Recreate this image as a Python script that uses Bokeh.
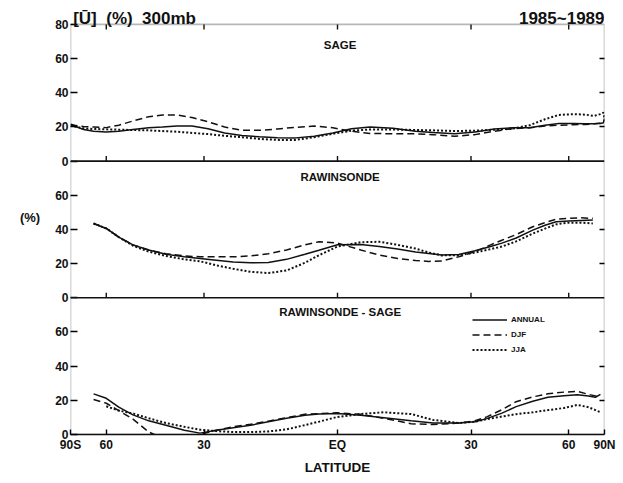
import numpy as np
from bokeh.plotting import figure
from bokeh.models import (Range1d, FixedTicker, LinearAxis, Label, Legend, LegendItem,
                          ColumnDataSource, Span, BoxAnnotation)
from bokeh.transform import dodge
from bokeh.embed import file_html
from bokeh.resources import INLINE

# ---------------- data ----------------
# latitude (degrees, negative = south) and zonal-mean values (%) at 300 mb
sage_lat = [-88, -80, -72, -66, -60, -55, -50, -45, -41, -37, -33, -29, -25, -21, -17,
            -13, -9, -5, -1, 3, 7, 12, 17, 21, 26, 31, 36, 41, 46, 51, 56, 62, 68, 74,
            80, 85, 89]
sage_annual = [21.5, 20.5, 18.5, 17.5, 17.0, 17.5, 18.5, 19.5, 20.0, 20.6, 20.5, 19.0,
               16.5, 15.0, 14.2, 13.7, 13.6, 14.5, 16.5, 19.0, 20.0, 19.2, 17.5, 16.7,
               16.0, 17.0, 18.8, 19.5, 19.5, 21.0, 22.0, 22.0, 21.8, 21.8, 22.0, 22.5, 25.0]
sage_djf = [21.6, 21.0, 20.3, 20.0, 19.6, 21.0, 23.5, 26.0, 27.0, 27.0, 25.5, 23.0,
            20.0, 18.0, 18.0, 18.8, 19.8, 20.5, 19.5, 17.5, 16.2, 16.0, 16.0, 15.5,
            14.5, 15.5, 17.5, 19.0, 19.5, 20.5, 21.0, 21.3, 21.5, 21.8, 22.3, 23.0, 24.0]
sage_jja = [21.0, 20.3, 19.2, 18.8, 18.6, 18.4, 18.2, 18.0, 17.6, 17.2, 16.5, 15.8,
            14.8, 14.0, 13.0, 12.4, 12.4, 14.0, 16.0, 17.8, 18.5, 18.5, 18.2, 18.0,
            17.6, 17.8, 18.4, 19.0, 21.0, 24.5, 27.0, 27.5, 27.2, 26.5, 27.5, 28.4, 25.0]

raw_lat = [-66, -60, -55, -50, -45, -40, -35, -31, -27, -23, -19, -15, -11, -7, -4, 0,
           5, 9, 13, 17, 20, 23, 27, 31, 35, 38, 42, 47, 51, 55, 60, 66, 73]
raw_annual = [43.5, 40.6, 35.5, 31.0, 28.0, 25.5, 24.0, 23.0, 22.0, 21.0, 20.5, 20.7,
              22.5, 25.5, 27.8, 31.0, 31.2, 30.0, 28.5, 26.8, 26.0, 25.0, 25.3, 27.5,
              30.0, 32.0, 35.0, 39.6, 42.5, 44.5, 45.0, 45.3, 45.5]
raw_djf = [43.5, 40.6, 35.5, 31.0, 28.0, 25.8, 24.5, 24.0, 24.0, 24.0, 24.5, 25.8,
           28.0, 31.0, 32.8, 32.0, 28.0, 25.0, 23.0, 21.8, 21.3, 21.6, 24.0, 27.0,
           31.0, 33.7, 37.0, 41.6, 44.0, 46.0, 46.5, 46.8, 46.5]
raw_jja = [43.5, 40.6, 35.5, 30.5, 27.0, 24.5, 22.5, 21.4, 19.0, 17.0, 15.2, 14.5,
           16.0, 20.5, 24.9, 30.0, 32.5, 32.8, 31.0, 28.8, 26.5, 24.8, 25.0, 26.5,
           28.5, 30.0, 33.0, 37.6, 40.5, 43.0, 44.0, 44.0, 43.5]

diff_lat = [-66, -60, -55, -50, -45, -40, -35, -31, -27, -23, -19, -15, -11, -7, -4, 0,
            5, 10, 16, 21, 27, 31, 34, 38, 42, 47, 52, 58, 64, 70, 75, 80]
diff_annual = [23.8, 21.2, 16.0, 11.5, 8.0, 5.4, 2.5, 0.8, 2.5, 4.0, 5.4, 7.5, 9.5,
               11.3, 12.0, 12.3, 11.2, 9.8, 8.0, 6.8, 6.7, 7.5, 9.3, 12.5, 16.3, 19.5,
               21.8, 22.7, 23.2, 22.5, 21.8, 23.5]
diff_djf = [20.5, 18.3, 14.0, 9.0, 1.5, -3.0, -3.0, 0.0, 2.5, 4.5, 6.0, 7.8, 9.8,
            11.9, 12.2, 12.7, 11.8, 9.5, 6.3, 5.8, 6.7, 8.0, 10.3, 14.5, 19.2, 22.0,
            23.8, 24.8, 25.2, 23.5, 22.6, 22.5]
diff_jja = [np.nan, 16.5, 14.0, 12.3, 9.5, 6.7, 4.5, 2.8, 2.0, 1.4, 1.4, 1.8, 3.0,
            5.5, 7.5, 10.3, 12.0, 13.0, 12.0, 8.5, 6.7, 7.5, 9.0, 10.5, 11.9, 13.0,
            14.3, 15.5, 17.3, 16.0, 14.3, 13.0]

tick_lats = [-90, -60, -30, 0, 30, 60, 90]
tick_names = ["90S", "60", "30", "EQ", "30", "60", "90N"]
y_tick_vals = [0, 20, 40, 60, 80]

# ---------------- layout / styling ----------------
FONT = "Liberation Sans"
INK = "#111111"
STYLES = {"ANNUAL": dict(line_dash="solid", line_width=1.5),
          "DJF": dict(line_dash="7 4", line_width=1.5),
          "JJA": dict(line_dash="2 2", line_width=2.0)}

PANEL = 80                      # each panel spans 0..80 %
BASE = {"sage": 2 * PANEL, "raw": PANEL, "diff": 0}
Y_TOP = 254                     # headroom above the top panel for the heading
NB = "\u00a0"                   # keeps the wide gaps in the heading


def sinlat(lats):
    # the latitude axis is area-weighted: positions go as sin(latitude)
    return np.sin(np.radians(np.asarray(lats, dtype=float)))


x_ticks = [float(v) for v in sinlat(tick_lats)]
inner_x = [float(v) for v in sinlat(tick_lats[1:-1])]

p = figure(frame_width=534, frame_height=434, x_range=Range1d(-1, 1),
           y_range=Range1d(0, Y_TOP), output_backend="svg", toolbar_location=None,
           min_border_left=70, min_border_right=19, min_border_top=0,
           min_border_bottom=49, x_axis_location=None, y_axis_location=None,
           background_fill_color="white", border_fill_color="white")
p.grid.visible = False
p.outline_line_color = None

# left axis: every panel repeats 0..60, the top one also shows 80
left_ticks, left_labels = [], {}
for base in (0, PANEL, 2 * PANEL):
    for v in y_tick_vals:
        t = base + v
        if t in left_labels:
            continue
        if v == 80 and base < 2 * PANEL:
            continue
        left_ticks.append(t)
        left_labels[t] = str(v)
yl = LinearAxis(ticker=FixedTicker(ticks=left_ticks), major_label_overrides=left_labels,
                major_tick_in=7, major_tick_out=0, minor_tick_line_color=None,
                axis_line_color=None, major_tick_line_width=1.6,
                major_label_text_font=FONT, major_label_text_font_style="bold",
                major_label_text_font_size="12px", major_label_standoff=2,
                major_label_text_color=INK, axis_label="(%)",
                axis_label_orientation="horizontal", axis_label_standoff=12,
                axis_label_text_font=FONT, axis_label_text_font_style="bold",
                axis_label_text_font_size="13px", axis_label_text_color=INK)
p.add_layout(yl, "left")

right_ticks = [b + v for b in (0, PANEL, 2 * PANEL) for v in (20, 40, 60)]
yr = LinearAxis(ticker=FixedTicker(ticks=right_ticks),
                major_label_overrides={t: "" for t in right_ticks},
                major_tick_in=5, major_tick_out=0, minor_tick_line_color=None,
                axis_line_color=None, major_tick_line_width=1.4)
p.add_layout(yr, "right")

xb = LinearAxis(ticker=FixedTicker(ticks=x_ticks),
                major_label_overrides={t: n for t, n in zip(x_ticks, tick_names)},
                major_tick_in=5, major_tick_out=0, minor_tick_line_color=None,
                axis_line_color=INK, axis_line_width=1.6, major_tick_line_width=1.4,
                major_label_text_font=FONT, major_label_text_font_style="bold",
                major_label_text_font_size="12px", major_label_standoff=3,
                major_label_text_color=INK, axis_label="LATITUDE",
                axis_label_text_font=FONT, axis_label_text_font_style="bold",
                axis_label_text_font_size="13.5px", axis_label_standoff=5,
                axis_label_text_color=INK)
p.add_layout(xb, "below")

# panel frames and separators
p.add_layout(BoxAnnotation(left=-1, right=1, bottom=0, top=3 * PANEL, fill_color=None,
                           line_color=INK, line_width=1.6))
for sep in (PANEL, 2 * PANEL):
    p.add_layout(Span(location=sep, dimension="width", line_color=INK, line_width=1.6))

# latitude tick marks on the inner panel edges and on the top edge
tick_src = ColumnDataSource(dict(x=inner_x * 3,
                                 y0=[PANEL] * 5 + [2 * PANEL] * 5 + [3 * PANEL] * 5,
                                 y1=[PANEL + 3] * 5 + [2 * PANEL + 3] * 5 +
                                    [3 * PANEL - 3] * 5))
p.segment(x0="x", y0="y0", x1="x", y1="y1", source=tick_src, line_color=INK,
          line_width=1.4)


def draw(key, lats, series):
    renderers = {}
    for name, vals in series:
        src = ColumnDataSource(dict(x=sinlat(lats), v=vals))
        renderers[name] = p.line(x="x", y=dodge("v", BASE[key]), source=src,
                                 line_color=INK, **STYLES[name])
    return renderers


draw("sage", sage_lat, [("DJF", sage_djf), ("JJA", sage_jja), ("ANNUAL", sage_annual)])
draw("raw", raw_lat, [("DJF", raw_djf), ("JJA", raw_jja), ("ANNUAL", raw_annual)])
r3 = draw("diff", diff_lat, [("DJF", diff_djf), ("JJA", diff_jja), ("ANNUAL", diff_annual)])


def tag(key, text, y):
    p.add_layout(Label(x=0.01, y=BASE[key] + y, text=text, text_align="center",
                       text_baseline="middle", text_font=FONT, text_font_style="bold",
                       text_font_size="11.5px", text_color=INK))


tag("sage", "SAGE", 68)
tag("raw", "RAWINSONDE", 70.5)
tag("diff", "RAWINSONDE - SAGE", 71.5)

# heading line above the top panel
p.add_layout(Label(x=-0.99, y=3 * PANEL + 3.5,
                   text=f"[Ū]{NB}{NB}(%){NB}{NB}300mb", text_align="left",
                   text_baseline="alphabetic", text_font=FONT, text_font_style="bold",
                   text_font_size="17px", text_color=INK))
p.add_layout(Label(x=1.0, y=3 * PANEL + 3.5, text="1985~1989", text_align="right",
                   text_baseline="alphabetic", text_font=FONT, text_font_style="bold",
                   text_font_size="17px", text_color=INK))

legend = Legend(items=[LegendItem(label="ANNUAL", renderers=[r3["ANNUAL"]]),
                       LegendItem(label="DJF", renderers=[r3["DJF"]]),
                       LegendItem(label="JJA", renderers=[r3["JJA"]])],
                location=(402, 77), orientation="vertical", glyph_width=35,
                glyph_height=15, label_height=15, label_standoff=4, spacing=0,
                padding=0, margin=0, border_line_color=None,
                background_fill_alpha=0, label_text_font=FONT,
                label_text_font_style="bold", label_text_font_size="8px",
                label_text_color=INK)
p.add_layout(legend, "center")

open("out.html", "w").write(file_html(p, INLINE))
